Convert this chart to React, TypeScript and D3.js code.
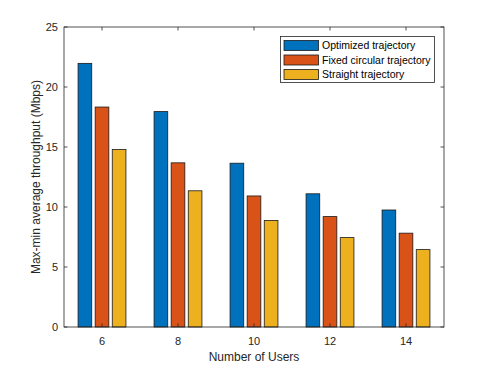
import React from "react";
import * as d3 from "d3";

const categories = [6, 8, 10, 12, 14];
const seriesNames = ["Optimized trajectory", "Fixed circular trajectory", "Straight trajectory"];
const optimized = [21.97, 17.95, 13.65, 11.1, 9.75];
const fixedCircular = [18.33, 13.68, 10.92, 9.2, 7.82];
const straight = [14.8, 11.35, 8.88, 7.45, 6.45];
const yTicks = [0, 5, 10, 15, 20, 25];
const colors = ["#0072BD", "#D95319", "#EDB120"];

export default function App() {
  const W = 491, H = 368;
  const left = 64, right = 444, top = 27, bottom = 327;
  const x = d3.scaleLinear().domain([5, 15]).range([left, right]);
  const y = d3.scaleLinear().domain([0, 25]).range([bottom, top]);
  const series = [optimized, fixedCircular, straight];
  const offset = 0.45;
  const barW = 0.36;
  const font = "'Liberation Sans', Arial, Helvetica, sans-serif";
  const axisColor = "#262626";
  const tickLen = 3.5;
  return (
    <svg width={W} height={H} style={{ position: "absolute", left: 0, top: 0, background: "#fff" }}>
      <rect x={0} y={0} width={W} height={H} fill="#fff" />
      {series.map((vals, si) =>
        vals.map((v, ci) => {
          const cx = categories[ci] + (si - 1) * offset;
          const x0 = x(cx - barW / 2);
          const x1 = x(cx + barW / 2);
          return (
            <rect key={`${si}-${ci}`} x={x0} y={y(v)} width={x1 - x0} height={y(0) - y(v)}
              fill={colors[si]} stroke="#1a1a1a" strokeWidth={0.8} />
          );
        })
      )}
      {/* axes box */}
      <rect x={left} y={top} width={right - left} height={bottom - top} fill="none" stroke={axisColor} strokeWidth={0.8} />
      {categories.map((c) => (
        <g key={c}>
          <line x1={x(c)} x2={x(c)} y1={bottom} y2={bottom - tickLen} stroke={axisColor} strokeWidth={0.8} />
          <line x1={x(c)} x2={x(c)} y1={top} y2={top + tickLen} stroke={axisColor} strokeWidth={0.8} />
          <text x={x(c)} y={345} textAnchor="middle" fontFamily={font} fontSize={11} fill={axisColor}>{c}</text>
        </g>
      ))}
      {yTicks.map((t) => (
        <g key={t}>
          <line x1={left} x2={left + tickLen} y1={y(t)} y2={y(t)} stroke={axisColor} strokeWidth={0.8} />
          <line x1={right} x2={right - tickLen} y1={y(t)} y2={y(t)} stroke={axisColor} strokeWidth={0.8} />
          <text x={58} y={y(t)} dy="0.35em" textAnchor="end" fontFamily={font} fontSize={11} fill={axisColor}>{t}</text>
        </g>
      ))}
      <text x={(left + right) / 2} y={361} textAnchor="middle" fontFamily={font} fontSize={12} fill={axisColor}>Number of Users</text>
      <text transform={`translate(40,${(top + bottom) / 2}) rotate(-90)`} textAnchor="middle" fontFamily={font} fontSize={12} fill={axisColor}>Max-min average throughput (Mbps)</text>
      {/* legend */}
      <g>
        <rect x={280.5} y={36.5} width={154} height={46} fill="#fff" stroke={axisColor} strokeWidth={0.8} />
        {seriesNames.map((n, i) => (
          <g key={n}>
            <rect x={284} y={40.5 + i * 14.5} width={34.5} height={10} fill={colors[i]} stroke="#1a1a1a" strokeWidth={0.8} />
            <text x={322} y={45.5 + i * 14.5} dy="0.35em" fontFamily={font} fontSize={10.5} fill="#000">{n}</text>
          </g>
        ))}
      </g>
    </svg>
  );
}
